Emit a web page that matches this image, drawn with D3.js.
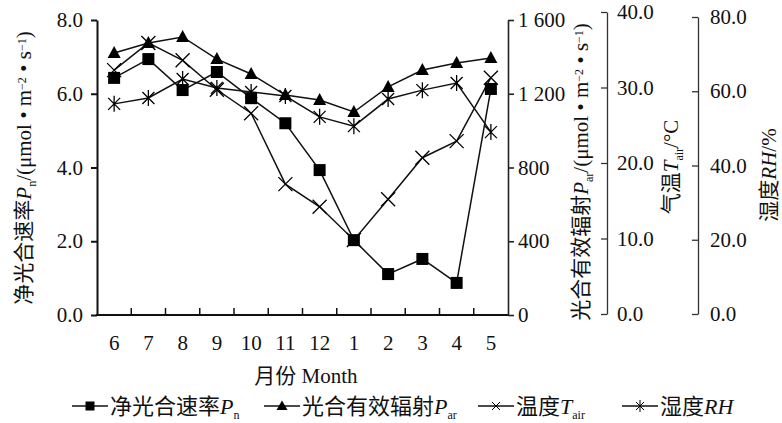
<!DOCTYPE html>
<html><head><meta charset="utf-8">
<script src="https://cdn.jsdelivr.net/npm/d3@7"></script>
<style>
body{margin:0;background:#fff;}
svg{display:block;}
text{font-family:"Liberation Serif","Noto Sans CJK SC",serif;fill:#111;}
</style></head>
<body><svg id="c" width="782" height="423"></svg>
<script>
const months = ["6","7","8","9","10","11","12","1","2","3","4","5"];
const pnValues = [6.43,6.94,6.10,6.59,5.88,5.20,3.93,2.03,1.11,1.52,0.87,6.13];
const parValues = [1421,1475,1508,1388,1307,1193,1166,1101,1237,1329,1367,1394];
const tairValues = [32.3,35.9,33.6,29.7,26.6,17.2,14.2,9.8,15.2,20.7,22.9,31.3];
const rhValues = [56.6,58.2,63.3,60.9,59.8,58.7,53.1,50.6,57.9,60.3,62.2,49.0];
const pnTicks = [0,2,4,6,8];
const parTicks = [0,400,800,1200,1600];
const tairTicks = [0,10,20,30,40];
const rhTicks = [0,20,40,60,80];

const svg = d3.select("#c");
const x = d3.scaleBand().domain(months).range([97,508]);
const yPn = d3.scaleLinear().domain([0,8]).range([315,20]);
const yPar = d3.scaleLinear().domain([0,1600]).range([315,20]);
const yT = d3.scaleLinear().domain([0,40]).range([314,12]);
const yRH = d3.scaleLinear().domain([0,80]).range([314,17]);

const FS = 21;
const SERIF = "'Liberation Serif', 'Times New Roman', serif";
function styleAxis(g, w, col){
  g.attr("font-family",SERIF).attr("font-size",FS);
  g.selectAll("path").attr("stroke",col).attr("stroke-width",w);
  g.selectAll("line").attr("stroke",col).attr("stroke-width",w);
  g.selectAll("text").style("font-size",FS+"px").attr("fill","#111")
   .style("font-family",SERIF);
}
// left axis
const gl = svg.append("g").attr("transform","translate(97,0)")
  .call(d3.axisLeft(yPn).tickValues(pnTicks).tickFormat(d3.format(".1f")).tickSizeInner(6).tickSizeOuter(0).tickPadding(8));
styleAxis(gl,2,"#111");
// bottom axis: line + inner ticks at band boundaries
svg.append("line").attr("x1",96).attr("x2",509).attr("y1",315).attr("y2",315).attr("stroke","#111").attr("stroke-width",2);
svg.selectAll(".xt").data(months.slice(1)).enter().append("line")
  .attr("x1",d=>x(d)).attr("x2",d=>x(d)).attr("y1",315).attr("y2",308).attr("stroke","#111").attr("stroke-width",1.5);
svg.selectAll(".xl").data(months).enter().append("text")
  .attr("x",d=>x(d)+x.bandwidth()/2).attr("y",350).attr("text-anchor","middle")
  .style("font-family",SERIF).style("font-size",FS+"px").text(d=>d);
// Par axis
const gp = svg.append("g").attr("transform","translate(508,0)")
  .call(d3.axisRight(yPar).tickValues(parTicks).tickFormat(d=>d>=1000?d3.format(",")(d).replace(","," "):d).tickSizeInner(6).tickSizeOuter(0).tickPadding(4));
styleAxis(gp,1.6,"#222");
// Tair axis
const gt = svg.append("g").attr("transform","translate(607,0)")
  .call(d3.axisLeft(yT).tickValues(tairTicks).tickFormat(d3.format(".1f")).tickSizeInner(6).tickSizeOuter(0));
styleAxis(gt,1.3,"#333");
gt.selectAll("text").attr("text-anchor","start").attr("x",10);
// RH axis
const gr = svg.append("g").attr("transform","translate(698,0)")
  .call(d3.axisLeft(yRH).tickValues(rhTicks).tickFormat(d3.format(".1f")).tickSizeInner(6).tickSizeOuter(0));
styleAxis(gr,1.3,"#333");
gr.selectAll("text").attr("text-anchor","start").attr("x",12);

// titles
function richText(sel, parts){
  parts.forEach(p=>{
    const t = sel.append("tspan").text(p.t);
    if(p.i) t.style("font-style","italic").style("font-family",SERIF);
    if(p.sub){ t.attr("baseline-shift","-40%").style("font-size","12px").style("font-family",SERIF); }
    if(p.sup){ t.attr("baseline-shift","45%").style("font-size","12px").style("font-family",SERIF); }
  });
}
const unit = [{t:"/(μmol • m"},{t:"−2",sup:1},{t:" • s"},{t:"−1",sup:1},{t:")"}];
const lt = svg.append("text").attr("transform","translate(31,168) rotate(-90)").attr("text-anchor","middle").style("font-size","21px");
richText(lt,[{t:"净光合速率"},{t:"P",i:1},{t:"n",sub:1}].concat(unit));
const pt = svg.append("text").attr("transform","translate(588,172) rotate(-90)").attr("text-anchor","middle").style("font-size","21px");
richText(pt,[{t:"光合有效辐射"},{t:"P",i:1},{t:"ar",sub:1}].concat(unit));
const tt = svg.append("text").attr("transform","translate(678,167) rotate(-90)").attr("text-anchor","middle").style("font-size","21px");
richText(tt,[{t:"气温"},{t:"T",i:1},{t:"air",sub:1},{t:"/°C"}]);
const rt = svg.append("text").attr("transform","translate(776,175) rotate(-90)").attr("text-anchor","middle").style("font-size","21px");
richText(rt,[{t:"湿度"},{t:"RH",i:1},{t:"/%"}]);
svg.append("text").attr("x",306).attr("y",383).attr("text-anchor","middle").style("font-size","21px").text("月份  Month");

// markers
function marker(g, type, cx, cy){
  if(type==="sq") g.append("rect").attr("x",cx-6).attr("y",cy-6).attr("width",12).attr("height",12).attr("fill","#000");
  else if(type==="tri") g.append("path").attr("d",`M${cx},${cy-7}L${cx+6.5},${cy+5}L${cx-6.5},${cy+5}Z`).attr("fill","#000");
  else if(type==="x") g.append("path").attr("d",`M${cx-7},${cy-7}L${cx+7},${cy+7}M${cx-7},${cy+7}L${cx+7},${cy-7}`).attr("stroke","#000").attr("stroke-width",1.3);
  else if(type==="st") g.append("path").attr("d",`M${cx-6},${cy-6}L${cx+6},${cy+6}M${cx-6},${cy+6}L${cx+6},${cy-6}M${cx},${cy-8}L${cx},${cy+8}`).attr("stroke","#000").attr("stroke-width",1.3);
}
const series = [
  {vals:pnValues, y:yPn, m:"sq"},
  {vals:parValues, y:yPar, m:"tri"},
  {vals:tairValues, y:yT, m:"x"},
  {vals:rhValues, y:yRH, m:"st"}
];
const cx = d=>x(d)+x.bandwidth()/2;
series.forEach(s=>{
  const line = d3.line().x((v,i)=>cx(months[i])).y(v=>s.y(v));
  svg.append("path").attr("d",line(s.vals)).attr("fill","none").attr("stroke","#111").attr("stroke-width",1.5);
});
series.forEach(s=>{
  const g = svg.append("g");
  s.vals.forEach((v,i)=>marker(g,s.m,cx(months[i]),s.y(v)));
});

// legend
const legend = [
  {m:"sq", x0:72, parts:[{t:"净光合速率"},{t:"P",i:1},{t:"n",sub:1}]},
  {m:"tri", x0:264, parts:[{t:"光合有效辐射"},{t:"P",i:1},{t:"ar",sub:1}]},
  {m:"x", x0:478, parts:[{t:"温度"},{t:"T",i:1},{t:"air",sub:1}]},
  {m:"st", x0:622, parts:[{t:"湿度"},{t:"RH",i:1}]}
];
const ly = 406;
legend.forEach(l=>{
  const g = svg.append("g");
  const L = 36, mx = l.x0 + L/2;
  g.append("line").attr("x1",l.x0).attr("x2",l.x0+L).attr("y1",ly).attr("y2",ly).attr("stroke","#111").attr("stroke-width",1.5);
  if(l.m==="sq") g.append("rect").attr("x",mx-4.5).attr("y",ly-4.5).attr("width",9).attr("height",9);
  else if(l.m==="tri") g.append("path").attr("d",`M${mx},${ly-5.5}L${mx+5.5},${ly+4}L${mx-5.5},${ly+4}Z`);
  else if(l.m==="x") g.append("path").attr("d",`M${mx-4},${ly-4}L${mx+4},${ly+4}M${mx-4},${ly+4}L${mx+4},${ly-4}`).attr("stroke","#000").attr("stroke-width",1);
  else g.append("path").attr("d",`M${mx-4},${ly-4}L${mx+4},${ly+4}M${mx-4},${ly+4}L${mx+4},${ly-4}M${mx},${ly-6}L${mx},${ly+6}`).attr("stroke","#000").attr("stroke-width",1);
  const t = g.append("text").attr("x",l.x0+L+2).attr("y",ly+8).style("font-size","22px");
  richText(t,l.parts);
});
</script></body></html>
